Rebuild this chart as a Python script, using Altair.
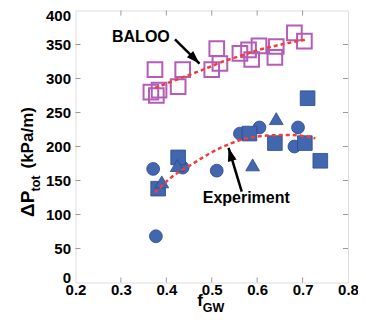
import altair as alt
import pandas as pd

# ---------------- data ----------------
baloo_x = [0.375, 0.366, 0.378, 0.384, 0.426, 0.436, 0.500, 0.511, 0.518, 0.562,
           0.581, 0.588, 0.604, 0.639, 0.642, 0.682, 0.704]
baloo_y = [313, 280, 275, 283, 288, 313, 313, 344, 322, 337,
           342, 328, 348, 331, 347, 367, 355]

circ_x = [0.371, 0.377, 0.436, 0.511, 0.562, 0.605, 0.682, 0.690]
circ_y = [167, 68, 169, 164.5, 219, 228, 200, 228]
sq_x = [0.382, 0.426, 0.583, 0.639, 0.705, 0.739, 0.711]
sq_y = [138, 184, 219, 205, 205, 179, 271]
tri_x = [0.390, 0.424, 0.590, 0.642]
tri_y = [148, 172, 173, 241]

fitb_x = [0.375, 0.437, 0.481, 0.525, 0.562, 0.603, 0.653, 0.705]
fitb_y = [286, 302, 313, 325, 333, 342, 350, 357]
fite_x = [0.375, 0.408, 0.459, 0.496, 0.540, 0.577, 0.621, 0.672, 0.705, 0.728]
fite_y = [132, 153, 175, 190, 204, 212, 216, 217, 215, 212]

x_ticks = [0.2, 0.3, 0.4, 0.5, 0.6, 0.7, 0.8]
y_ticks = [0, 50, 100, 150, 200, 250, 300, 350, 400]

labels = ["BALOO", "Experiment"]
label_x = [0.344, 0.576]
label_y = [361.5, 124]
arrow_x0 = [0.419, 0.566]
arrow_y0 = [357.6, 133.5]
arrow_x1 = [0.473, 0.537]
arrow_y1 = [322, 198]
arrow_angle = [135, 344]

# ---------------- layout ----------------
W, H = 272.5, 272
FONT = "Liberation Sans"
BLUE = "#4266b0"
MAG = "#b45cb8"
RED = "#ee3f3a"

xs = alt.Scale(domain=[0.2, 0.8], nice=False, zero=False)
ys = alt.Scale(domain=[0, 400], nice=False)

df_b = pd.DataFrame({"x": baloo_x, "y": baloo_y})
df_c = pd.DataFrame({"x": circ_x, "y": circ_y})
df_s = pd.DataFrame({"x": sq_x, "y": sq_y})
df_t = pd.DataFrame({"x": tri_x, "y": tri_y})
df_fb = pd.DataFrame({"x": fitb_x, "y": fitb_y})
df_fe = pd.DataFrame({"x": fite_x, "y": fite_y})
df_lab = pd.DataFrame({"t": labels, "x": label_x, "y": label_y})
df_arr = pd.DataFrame({"x": arrow_x0, "y": arrow_y0, "x2": arrow_x1, "y2": arrow_y1,
                       "a": arrow_angle})
df_xt = pd.DataFrame({"v": x_ticks[1:-1]})
df_yt = pd.DataFrame({"v": y_ticks[1:-1]})

xaxis = alt.Axis(values=x_ticks, format=".1f", ticks=False, domain=False, grid=False,
                 labelFont=FONT, labelFontWeight="bold", labelFontSize=15,
                 labelColor="black", labelPadding=0, labelFlush=False,
                 labelOverlap=False, title=None)
yaxis = alt.Axis(values=y_ticks, ticks=False, domain=False, grid=False,
                 labelFont=FONT, labelFontWeight="bold", labelFontSize=15,
                 labelColor="black", labelPadding=5, labelFlush=False,
                 labelOverlap=False, title=None,
                 labelOffset={"expr": "datum.value == 400 ? 5 : (datum.value == 0 ? -5 : 0)"})


def XE(f):
    return alt.X(f + ":Q", scale=xs, axis=xaxis, title=None)


def YE(f):
    return alt.Y(f + ":Q", scale=ys, axis=yaxis, title=None)


baloo = alt.Chart(df_b).mark_point(shape="square", filled=False, size=215, color=MAG,
                                   strokeWidth=2, opacity=1).encode(x=XE("x"), y=YE("y"))
circles = alt.Chart(df_c).mark_point(shape="circle", filled=True, size=165, fill=BLUE,
                                     stroke="#2c4a8c", strokeWidth=0.8, opacity=1).encode(x=XE("x"), y=YE("y"))
squares = alt.Chart(df_s).mark_point(shape="square", filled=True, size=215, fill=BLUE,
                                     stroke="#2c4a8c", strokeWidth=0.8, opacity=1).encode(x=XE("x"), y=YE("y"))
tris = alt.Chart(df_t).mark_point(shape="triangle-up", filled=True, size=190, fill=BLUE,
                                  stroke="#2c4a8c", strokeWidth=0.8, opacity=1).encode(x=XE("x"), y=YE("y"))

fitb = alt.Chart(df_fb).mark_line(color=RED, strokeWidth=2.5, strokeDash=[4, 3],
                                  interpolate="monotone").encode(x=XE("x"), y=YE("y"))
fite = alt.Chart(df_fe).mark_line(color=RED, strokeWidth=2.5, strokeDash=[4, 3],
                                  interpolate="monotone").encode(x=XE("x"), y=YE("y"))

arr_line = alt.Chart(df_arr).mark_rule(color="black", strokeWidth=2.5).encode(
    x=XE("x"), y=YE("y"), x2="x2:Q", y2="y2:Q")
arr_head = alt.Chart(df_arr).mark_point(shape="M0,0L0.6,1.8L-0.6,1.8Z", filled=True,
                                        color="black", size=220, opacity=1).encode(
    x=XE("x2"), y=YE("y2"), angle=alt.Angle("a:Q", scale=None))

lab = alt.Chart(df_lab).mark_text(font=FONT, fontWeight="bold", fontSize=16,
                                  color="black").encode(x=XE("x"), y=YE("y"), text="t:N")

# inward ticks on all four sides
tcol = "#9a9a9a"
tick_b = alt.Chart(df_xt).mark_rule(color=tcol, strokeWidth=1).encode(
    x=XE("v"), y=alt.value(H), y2=alt.value(H - 5))
tick_t = alt.Chart(df_xt).mark_rule(color=tcol, strokeWidth=1).encode(
    x=XE("v"), y=alt.value(0), y2=alt.value(5))
tick_l = alt.Chart(df_yt).mark_rule(color=tcol, strokeWidth=1).encode(
    y=YE("v"), x=alt.value(0), x2=alt.value(5))
tick_r = alt.Chart(df_yt).mark_rule(color=tcol, strokeWidth=1).encode(
    y=YE("v"), x=alt.value(W), x2=alt.value(W - 5))


# axis titles with subscripts
def ttl(text, x, y, size, angle=0, align="center"):
    return alt.Chart(pd.DataFrame({"t": [text]})).mark_text(
        font=FONT, fontWeight="bold", fontSize=size, color="black", angle=angle,
        align=align, baseline="middle").encode(text="t:N", x=alt.value(x), y=alt.value(y))


yt1 = ttl("\u0394P", -47.5, 206.5, 19, angle=270, align="left")
yt2 = ttl("tot", -40, 181, 12.5, angle=270, align="left")
yt3 = ttl("(kPa/m)", -47.5, 158, 17, angle=270, align="left")
xt1 = ttl("f", 124.5, 290.5, 17)
xt2 = ttl("GW", 138, 297, 12.5)

chart = alt.layer(
    baloo, circles, squares, tris, fitb, fite, arr_line, arr_head, lab,
    tick_b, tick_t, tick_l, tick_r, yt1, yt2, yt3, xt1, xt2
).properties(
    width=W, height=H,
    autosize=alt.AutoSizeParams(type="none"),
    padding={"left": 67.5, "top": 2.5, "right": 10, "bottom": 40},
).configure_view(stroke="black", strokeWidth=1.6).configure(background="white")

chart.save("out.html", embed_options={"renderer": "svg", "actions": False})
